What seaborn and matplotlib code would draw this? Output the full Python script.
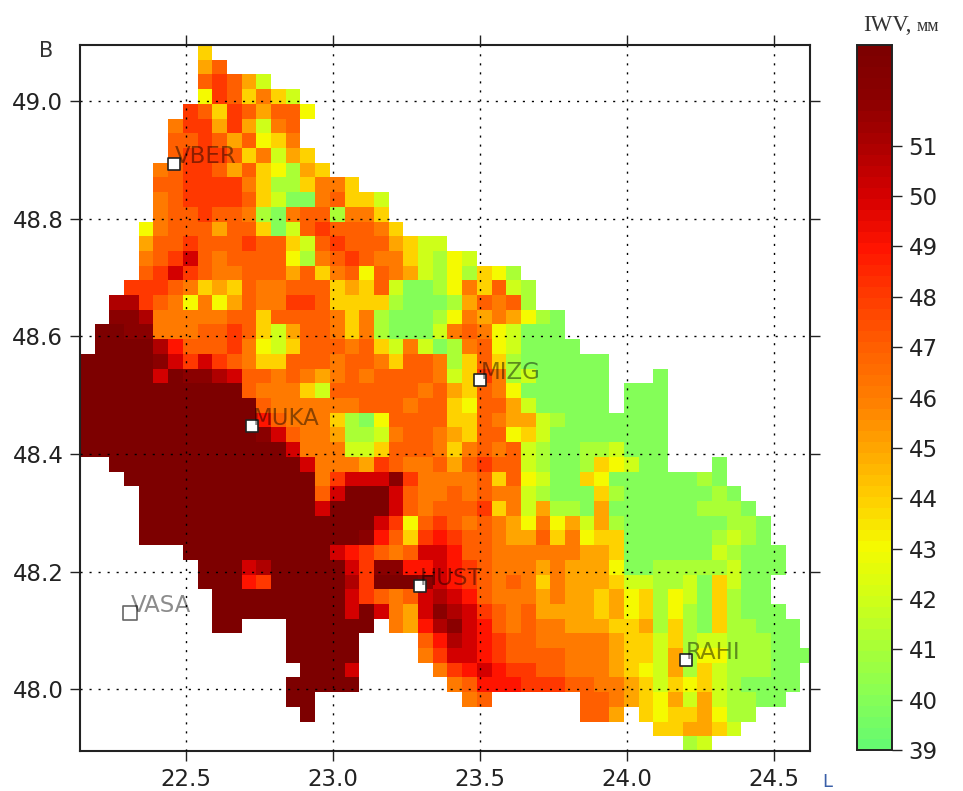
import numpy as np
import pandas as pd
import matplotlib
matplotlib.use('Agg')
import matplotlib.pyplot as plt
import seaborn as sns
from matplotlib.colors import LinearSegmentedColormap

# map extent and grid step, degrees
lon_left = 22.14
lat_top = 49.095
lon_step = 0.05
lat_step = 0.025
n_cols = 50
n_rows = 48

lon_ticks = [22.5, 23.0, 23.5, 24.0, 24.5]
lat_ticks = [48.0, 48.2, 48.4, 48.6, 48.8, 49.0]
cbar_ticks = [39, 40, 41, 42, 43, 44, 45, 46, 47, 48, 49, 50, 51]

stations = ['VBER', 'MUKA', 'MIZG', 'HUST', 'VASA', 'RAHI']
station_lon = [22.46, 22.725, 23.5, 23.295, 22.31, 24.2]
station_lat = [48.893, 48.447, 48.525, 48.175, 48.13, 48.05]

# IWV, one line per grid row: (first column, values)
iwv_rows = [
    [(8, [44])],
    [(8, [45, 47])],
    [(8, [47, 48, 47, 45, 42])],
    [(8, [43, 48, 47, 44, 46, 44, 42])],
    [(7, [48, 47, 44, 48, 47, 45, 47, 47, 43])],
    [(6, [46, 48, 48, 45, 48, 45, 42, 46, 47])],
    [(6, [47, 47, 48, 47, 45, 47, 43, 44, 46])],
    [(6, [47, 48, 48, 48, 47, 44, 46, 42, 45, 44])],
    [(5, [46, 47, 48, 48, 47, 45, 47, 44, 43, 41, 45, 44])],
    [(5, [47, 47, 48, 48, 48, 48, 46, 44, 41, 41, 44, 46, 46, 44])],
    [(5, [46, 47, 48, 48, 48, 48, 47, 44, 42, 40, 40, 46, 47, 44, 44, 42])],
    [(5, [46, 47, 47, 48, 47, 47, 46, 41, 40, 46, 47, 47, 41, 46, 46, 44])],
    [(4, [43, 46, 47, 47, 47, 45, 47, 47, 44, 40, 42, 47, 48, 47, 47, 47, 46, 44])],
    [(4, [45, 47, 47, 48, 47, 47, 47, 48, 47, 47, 44, 42, 47, 48, 47, 47, 47, 45, 44, 42, 42])],
    [(4, [46, 47, 48, 50, 47, 46, 47, 47, 47, 47, 43, 41, 46, 47, 48, 47, 46, 46, 44, 42, 41, 43, 42])],
    [(4, [47, 48, 50, 48, 47, 46, 46, 47, 47, 47, 45, 47, 44, 46, 47, 43, 47, 46, 45, 42, 41, 43, 41, 44, 43, 41])],
    [(3, [48, 48, 48, 47, 46, 44, 45, 44, 47, 46, 46, 47, 47, 47, 44, 45, 44, 47, 42, 40, 40, 41, 43, 46, 44, 47, 42, 41])],
    [(2, [51, 51, 48, 47, 46, 43, 46, 43, 45, 47, 46, 46, 48, 48, 47, 44, 44, 44, 44, 41, 40, 40, 40, 41, 45, 47, 46, 47, 41])],
    [(2, [52, 52, 51, 46, 46, 46, 46, 46, 47, 47, 44, 47, 47, 47, 47, 46, 44, 46, 41, 40, 40, 40, 41, 43, 46, 45, 46, 45, 43, 41, 40])],
    [(1, [53, 53, 52, 52, 46, 46, 46, 47, 47, 48, 47, 44, 42, 45, 47, 47, 46, 44, 46, 41, 40, 40, 40, 42, 46, 47, 46, 43, 42, 40, 40, 40])],
    [(1, [53, 53, 53, 53, 51, 49, 47, 47, 47, 48, 46, 43, 42, 44, 47, 47, 47, 46, 47, 44, 42, 46, 42, 40, 41, 46, 47, 43, 42, 40, 40, 40, 40])],
    [(0, [53, 53, 53, 53, 53, 52, 50, 48, 50, 48, 47, 46, 44, 44, 47, 47, 47, 46, 47, 47, 46, 44, 47, 47, 46, 41, 44, 47, 44, 41, 40, 40, 40, 40, 40, 40])],
    [(0, [53, 53, 53, 53, 53, 50, 53, 52, 52, 51, 50, 47, 47, 46, 47, 46, 45, 46, 47, 46, 47, 47, 47, 47, 46, 42, 44, 48, 46, 41, 42, 40, 40, 40, 40, 40]), (39, [40])],
    [(0, [53, 53, 53, 53, 53, 53, 53, 53, 53, 53, 53, 47, 46, 46, 46, 44, 42, 47, 47, 47, 47, 47, 47, 46, 47, 45, 44, 47, 46, 43, 40, 40, 40, 40, 40, 40]), (37, [40, 40, 40])],
    [(0, [53, 53, 53, 53, 53, 53, 53, 53, 53, 53, 53, 53, 47, 46, 46, 46, 46, 46, 46, 47, 47, 47, 46, 47, 47, 44, 43, 47, 47, 45, 42, 40, 40, 40, 40, 40]), (37, [40, 40, 40])],
    [(0, [53, 53, 53, 53, 53, 53, 53, 53, 53, 53, 53, 53, 49, 47, 46, 46, 46, 44, 41, 40, 43, 47, 47, 47, 47, 44, 44, 47, 46, 45, 45, 42, 41, 40, 40, 40, 40, 40, 40, 40])],
    [(0, [53, 53, 53, 53, 53, 53, 53, 53, 53, 53, 53, 53, 52, 50, 47, 46, 46, 45, 41, 41, 42, 46, 47, 47, 46, 45, 44, 47, 47, 43, 44, 42, 40, 40, 40, 40, 40, 40, 40, 40])],
    [(0, [53, 53, 53, 53, 53, 53, 53, 53, 53, 53, 53, 53, 53, 53, 50, 46, 46, 46, 42, 42, 44, 47, 47, 47, 46, 44, 46, 47, 46, 47, 42, 41, 40, 40, 41, 41, 42, 40, 40, 40])],
    [(2, [53, 53, 53, 53, 53, 53, 53, 53, 53, 53, 53, 53, 53, 50, 46, 46, 46, 45, 48, 47, 46, 46, 47, 45, 47, 48, 47, 47, 42, 41, 40, 40, 41, 44, 43, 42, 40, 40]), (43, [40])],
    [(3, [53, 53, 53, 53, 53, 53, 53, 53, 53, 53, 53, 53, 53, 46, 48, 50, 50, 50, 52, 48, 46, 46, 46, 46, 47, 44, 47, 43, 42, 40, 40, 44, 43, 40, 40, 40, 40, 40, 40, 41, 40])],
    [(4, [53, 53, 53, 53, 53, 53, 53, 53, 53, 53, 53, 53, 47, 50, 53, 53, 53, 50, 47, 46, 46, 47, 46, 47, 46, 46, 42, 41, 40, 40, 40, 44, 41, 40, 40, 40, 40, 40, 40, 41, 40])],
    [(4, [53, 53, 53, 53, 53, 53, 53, 53, 53, 53, 53, 53, 50, 53, 53, 53, 53, 50, 47, 46, 47, 47, 47, 48, 44, 46, 42, 45, 41, 41, 40, 45, 40, 40, 40, 40, 40, 40, 41, 41, 41, 40])],
    [(4, [53, 53, 53, 53, 53, 53, 53, 53, 53, 53, 53, 53, 53, 53, 53, 53, 50, 48, 43, 47, 48, 47, 46, 47, 46, 45, 43, 46, 43, 45, 42, 45, 41, 40, 40, 40, 40, 40, 40, 40, 41, 41, 40])],
    [(4, [53, 53, 53, 53, 53, 53, 53, 53, 53, 53, 53, 53, 53, 53, 53, 52, 49, 47, 44, 48, 49, 48, 47, 47, 46, 45, 45, 47, 44, 46, 43, 44, 44, 40, 40, 40, 40, 40, 40, 41, 42, 41, 40])],
    [(7, [53, 53, 53, 53, 53, 53, 53, 53, 53, 53, 50, 49, 48, 47, 46, 47, 50, 50, 49, 47, 47, 46, 46, 46, 46, 46, 46, 45, 45, 44, 40, 40, 40, 40, 40, 40, 42, 41, 40, 40, 40])],
    [(8, [53, 53, 53, 50, 51, 53, 53, 53, 53, 53, 50, 48, 52, 52, 49, 49, 50, 49, 48, 47, 46, 46, 46, 45, 46, 45, 45, 45, 43, 40, 40, 41, 41, 41, 41, 41, 42, 40, 40, 40])],
    [(8, [53, 53, 53, 49, 48, 53, 53, 53, 53, 53, 51, 48, 53, 53, 53, 52, 50, 49, 48, 47, 46, 47, 46, 44, 46, 45, 45, 45, 44, 42, 42, 41, 41, 42, 40, 44, 42, 40, 40])],
    [(9, [53, 53, 53, 53, 53, 53, 53, 53, 53, 50, 48, 47, 46, 47, 50, 51, 50, 49, 47, 46, 46, 46, 45, 46, 45, 45, 44, 45, 43, 44, 41, 43, 42, 40, 44, 41, 40, 40])],
    [(9, [53, 53, 53, 53, 53, 53, 53, 53, 53, 50, 53, 50, 46, 45, 50, 52, 51, 50, 48, 47, 46, 47, 45, 45, 45, 45, 44, 45, 43, 44, 41, 43, 41, 40, 44, 41, 40, 40, 40])],
    [(9, [53, 53]), (14, [53, 53, 53, 53, 53, 53]), (21, [46, 45, 49, 51, 52, 50, 49, 47, 46, 47, 46, 46, 45, 45, 45, 44, 44, 45, 41, 44, 41, 40, 44, 41, 41, 40, 40, 40])],
    [(14, [53, 53, 53, 53, 53]), (23, [47, 49, 51, 50, 49, 48, 47, 47, 46, 46, 46, 46, 46, 45, 44, 44, 42, 44, 41, 42, 42, 41, 41, 41, 40, 40])],
    [(14, [53, 53, 53, 53, 53]), (23, [46, 48, 50, 50, 49, 48, 47, 47, 47, 47, 46, 46, 46, 45, 44, 44, 42, 45, 41, 43, 43, 41, 41, 41, 40, 40, 40])],
    [(15, [53, 53, 53, 50]), (24, [46, 48, 49, 50, 49, 48, 48, 47, 47, 46, 46, 46, 45, 44, 43, 42, 45, 41, 44, 42, 41, 41, 41, 40, 40])],
    [(14, [53, 53, 53, 53, 53]), (25, [46, 47, 49, 49, 49, 48, 48, 48, 47, 47, 46, 46, 45, 44, 42, 44, 43, 44, 42, 41, 40, 40, 40, 40])],
    [(14, [53, 53]), (26, [46, 47]), (34, [47, 47, 46, 45, 44, 43, 45, 42, 45, 42, 41, 41, 40, 40])],
    [(15, [53]), (34, [47, 47, 45]), (38, [44, 43, 44, 44, 45, 43, 41, 41])],
    [(39, [44, 44, 45, 45, 44, 42])],
    [(41, [41, 42])],
]

cmap_values = [39, 40, 41, 42, 43, 44, 45, 46, 47, 48, 49, 50, 51, 52, 53]
cmap_colors = ['#66fa70', '#88ff55', '#aaff35', '#d2ff15', '#f5fa00', '#ffcd00', '#ffa500', '#ff7d00',
               '#ff5f00', '#ff3c00', '#ff1400', '#d70000', '#af0000', '#8c0000', '#7d0000']

grid = np.full((n_rows, n_cols), np.nan)
for j, row in enumerate(iwv_rows):
    for start, vals in row:
        grid[j, start:start + len(vals)] = vals
df = pd.DataFrame(grid)

cmap = LinearSegmentedColormap.from_list(
    'iwv', [((v - 39) / 14, c) for v, c in zip(cmap_values, cmap_colors)], N=64)


def to_x(lon):
    return (np.asarray(lon) - lon_left) / lon_step


def to_y(lat):
    return (lat_top - np.asarray(lat)) / lat_step


W, H = 963, 791
fig = plt.figure(figsize=(W / 100, H / 100), dpi=100)
ax = fig.add_axes([80 / W, 1 - 751 / H, 730 / W, 706 / H])
cax = fig.add_axes([857 / W, 1 - 750 / H, 35 / W, 705 / H])

sns.heatmap(df, ax=ax, cbar_ax=cax, cmap=cmap, vmin=39, vmax=53, xticklabels=False, yticklabels=False,
            cbar_kws={'ticks': cbar_ticks})

ax.set_xlim(0, (24.623 - lon_left) / lon_step)
ax.set_ylim(n_rows, 0)
for s in ax.spines.values():
    s.set_visible(True)
    s.set_linewidth(1.5)
    s.set_color('#222222')

ax.set_xticks(to_x(lon_ticks))
ax.set_xticklabels(['%.1f' % v for v in lon_ticks])
ax.set_yticks(to_y(lat_ticks))
ax.set_yticklabels(['%.1f' % v for v in lat_ticks], rotation=0)
ax.tick_params(axis='both', labelsize=16.5, length=7, width=1, top=True, right=True, color='#222222',
               labelcolor='#222222', pad=5)
ax.grid(True, color='black', linestyle=(0, (1.5, 5)), linewidth=1)
ax.set_axisbelow(False)

# stations
st = pd.DataFrame({'x': to_x(station_lon), 'y': to_y(station_lat), 'name': stations})
dark = st[st['name'] != 'VASA']
sns.scatterplot(data=dark, x='x', y='y', ax=ax, marker='s', s=75, color='white', edgecolor='#222222',
                linewidth=1.2, zorder=5, legend=False)
sns.scatterplot(data=st[st['name'] == 'VASA'], x='x', y='y', ax=ax, marker='s', s=95, color='white',
                edgecolor='#666666', linewidth=1.2, zorder=5, legend=False)
ax.set_xlabel('')
ax.set_ylabel('')
for _, r in st.iterrows():
    ax.text(r['x'] + 0.03, r['y'] + 0.28, r['name'], fontsize=16.5, color='black', alpha=0.45, zorder=6,
            ha='left', va='bottom')

cax.tick_params(labelsize=16.5, length=7, width=1, color='#222222', labelcolor='#222222', pad=5)
for s in cax.spines.values():
    s.set_visible(True)
    s.set_linewidth(1.2)
    s.set_color('#222222')

fig.text(863 / W, 1 - 31 / H, 'IWV,', family='Liberation Serif', fontsize=16.5, color='#333333')
fig.text(917 / W, 1 - 31 / H, 'мм', family='Liberation Serif', fontsize=13, color='#333333')
fig.text(39 / W, 1 - 57 / H, 'B', fontsize=15, color='#333333')
fig.text(822 / W, 1 - 787 / H, 'L', fontsize=13, color='#3a5fa8')

fig.savefig('out.png', dpi=100)
